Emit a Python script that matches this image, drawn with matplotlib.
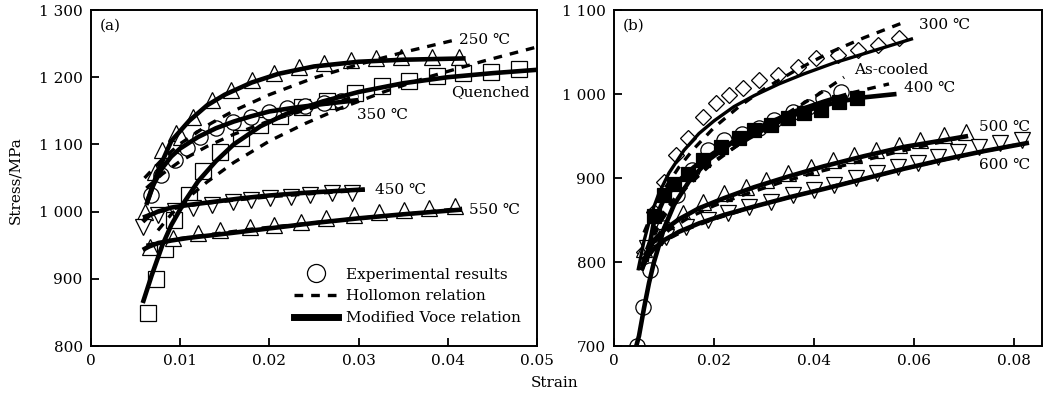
import matplotlib
matplotlib.use("Agg")
import matplotlib.pyplot as plt
from matplotlib.lines import Line2D
from matplotlib.ticker import FuncFormatter

plt.rcParams['font.family'] = ['DejaVu Serif', 'DejaVu Sans']
plt.rcParams['font.size'] = 11

# ---------------- Panel (a) data ----------------
a250_x = [0.0060, 0.0072, 0.0080, 0.0095, 0.0101, 0.0114, 0.0136, 0.0157, 0.0181, 0.0205, 0.0233, 0.0261, 0.0291, 0.0319, 0.0347, 0.0382, 0.0413]
a250_y = [1000, 1059, 1092, 1117, 1111, 1141, 1166, 1181, 1196, 1206, 1215, 1221, 1226, 1229, 1230, 1230, 1230]
a250_vx = [0.0063, 0.0075, 0.009, 0.011, 0.013, 0.015, 0.018, 0.021, 0.025, 0.030, 0.035, 0.042]
a250_vy = [1015, 1060, 1105, 1135, 1158, 1174, 1192, 1205, 1216, 1223, 1226, 1228]
a250_hx = [0.006, 0.008, 0.010, 0.013, 0.016, 0.020, 0.025, 0.030, 0.035, 0.041]
a250_hy = [1050, 1078, 1101, 1128, 1150, 1174, 1199, 1219, 1237, 1256]

aq_x = [0.0064, 0.0073, 0.0083, 0.0093, 0.0110, 0.0126, 0.0145, 0.0168, 0.0190, 0.0212, 0.0237, 0.0265, 0.0296, 0.0326, 0.0356, 0.0388, 0.0417, 0.0448, 0.0480]
aq_y = [849, 899, 945, 987, 1025, 1060, 1089, 1110, 1129, 1143, 1156, 1165, 1176, 1187, 1194, 1202, 1206, 1208, 1212]
aq_vx = [0.0058, 0.0068, 0.008, 0.009, 0.0105, 0.012, 0.014, 0.016, 0.019, 0.022, 0.026, 0.030, 0.035, 0.040, 0.045, 0.050]
aq_vy = [864, 905, 950, 980, 1015, 1045, 1075, 1100, 1127, 1146, 1164, 1178, 1191, 1200, 1206, 1211]
aq_hx = [0.0075, 0.009, 0.011, 0.013, 0.016, 0.020, 0.024, 0.028, 0.033, 0.038, 0.044, 0.050]
aq_hy = [972, 996, 1022, 1044, 1073, 1105, 1131, 1154, 1179, 1201, 1224, 1245]

a350_x = [0.0067, 0.0078, 0.0094, 0.0108, 0.0122, 0.0140, 0.0159, 0.0179, 0.0200, 0.0220, 0.0240, 0.0261, 0.0280]
a350_y = [1025, 1054, 1077, 1095, 1111, 1124, 1133, 1141, 1148, 1154, 1157, 1162, 1165]
a350_vx = [0.0062, 0.007, 0.008, 0.009, 0.010, 0.012, 0.014, 0.016, 0.018, 0.020, 0.023, 0.026, 0.030]
a350_vy = [1010, 1040, 1065, 1082, 1094, 1111, 1124, 1134, 1142, 1149, 1155, 1160, 1166]
a350_hx = [0.0062, 0.008, 0.010, 0.013, 0.016, 0.020, 0.025, 0.030]
a350_hy = [1035, 1056, 1075, 1097, 1115, 1135, 1155, 1172]

a450_x = [0.0058, 0.0075, 0.0094, 0.0114, 0.0136, 0.0159, 0.0179, 0.0201, 0.0224, 0.0246, 0.0270, 0.0293]
a450_y = [977, 995, 1001, 1005, 1010, 1014, 1017, 1020, 1022, 1025, 1028, 1028]
a450_vx = [0.0058, 0.0065, 0.0075, 0.009, 0.011, 0.014, 0.017, 0.020, 0.024, 0.0307]
a450_vy = [985, 994, 1000, 1006, 1010, 1015, 1020, 1024, 1028, 1033]
a450_hx = [0.0058, 0.007, 0.009, 0.012, 0.016, 0.020, 0.025, 0.0307]
a450_hy = [992, 998, 1004, 1011, 1017, 1022, 1027, 1032]

a550_x = [0.0066, 0.0092, 0.0120, 0.0145, 0.0178, 0.0205, 0.0235, 0.0263, 0.0295, 0.0323, 0.0351, 0.0379, 0.0408]
a550_y = [947, 961, 968, 973, 977, 980, 985, 990, 995, 999, 1002, 1005, 1009]
a550_vx = [0.0058, 0.0065, 0.0075, 0.009, 0.011, 0.015, 0.020, 0.025, 0.030, 0.035, 0.0416]
a550_vy = [943, 948, 953, 957, 961, 967, 975, 983, 990, 996, 1003]
a550_hx = [0.0062, 0.008, 0.010, 0.014, 0.018, 0.024, 0.030, 0.036, 0.0416]
a550_hy = [950, 955, 960, 967, 974, 982, 990, 997, 1005]

# ---------------- Panel (b) data ----------------
b300_x = [0.0060, 0.0080, 0.0100, 0.0124, 0.0148, 0.0178, 0.0204, 0.0230, 0.0258, 0.0290, 0.0328, 0.0368, 0.0404, 0.0448, 0.0488, 0.0528, 0.0570]
b300_y = [812, 860, 895, 927, 948, 973, 989, 999, 1007, 1017, 1023, 1032, 1043, 1046, 1052, 1058, 1067]
b300_vx = [0.0048, 0.006, 0.0075, 0.009, 0.011, 0.014, 0.017, 0.020, 0.024, 0.028, 0.033, 0.038, 0.044, 0.050, 0.0598]
b300_vy = [790, 825, 858, 882, 906, 933, 953, 968, 985, 998, 1012, 1024, 1037, 1048, 1066]
b300_hx = [0.006, 0.008, 0.010, 0.013, 0.016, 0.020, 0.025, 0.030, 0.036, 0.043, 0.050, 0.0574]
b300_hy = [835, 863, 886, 913, 935, 960, 985, 1006, 1027, 1049, 1067, 1084]

bac_x = [0.0046, 0.0058, 0.0072, 0.0100, 0.0125, 0.0155, 0.0188, 0.0220, 0.0255, 0.0290, 0.0320, 0.0358, 0.0388, 0.0418, 0.0454]
bac_y = [700, 746, 790, 840, 880, 910, 933, 945, 952, 960, 969, 979, 985, 995, 1002]
bac_vx = [0.004, 0.005, 0.006, 0.007, 0.008, 0.010, 0.012, 0.015, 0.019, 0.024, 0.030, 0.036, 0.042, 0.0465]
bac_vy = [690, 712, 745, 775, 800, 840, 868, 896, 922, 944, 963, 979, 991, 999]
bac_hx = [0.0055, 0.007, 0.009, 0.012, 0.015, 0.019, 0.024, 0.030, 0.036, 0.041, 0.046]
bac_hy = [795, 820, 845, 872, 892, 914, 936, 960, 982, 1000, 1020]

b400_x = [0.0080, 0.0100, 0.0120, 0.0148, 0.0178, 0.0214, 0.0250, 0.0280, 0.0314, 0.0348, 0.0380, 0.0414, 0.0450, 0.0485]
b400_y = [855, 880, 893, 905, 921, 937, 948, 957, 963, 971, 977, 981, 990, 995]
b400_vx = [0.0065, 0.008, 0.010, 0.013, 0.016, 0.020, 0.025, 0.030, 0.035, 0.040, 0.045, 0.050, 0.0565]
b400_vy = [800, 848, 875, 897, 913, 930, 947, 961, 973, 983, 991, 996, 1000]
b400_hx = [0.0065, 0.008, 0.010, 0.013, 0.016, 0.020, 0.025, 0.030, 0.036, 0.042, 0.048, 0.055]
b400_hy = [815, 838, 860, 882, 900, 920, 940, 957, 975, 990, 1002, 1012]

b500_x = [0.0060, 0.0080, 0.0104, 0.0138, 0.0178, 0.0220, 0.0264, 0.0304, 0.0348, 0.0394, 0.0438, 0.0480, 0.0524, 0.0570, 0.0612, 0.0660, 0.0704]
b500_y = [815, 830, 840, 858, 871, 882, 889, 898, 906, 913, 921, 927, 933, 939, 945, 951, 955]
b500_vx = [0.0055, 0.0065, 0.008, 0.010, 0.013, 0.017, 0.022, 0.028, 0.035, 0.042, 0.050, 0.058, 0.065, 0.0708]
b500_vy = [790, 810, 826, 838, 851, 864, 876, 889, 902, 914, 926, 937, 944, 950]
b500_hx = [0.006, 0.008, 0.011, 0.015, 0.020, 0.026, 0.033, 0.040, 0.048, 0.056, 0.064, 0.0708]
b500_hy = [808, 823, 838, 853, 867, 880, 894, 906, 918, 930, 941, 950]

b600_x = [0.0066, 0.0104, 0.0144, 0.0188, 0.0228, 0.0270, 0.0314, 0.0358, 0.0400, 0.0440, 0.0484, 0.0526, 0.0568, 0.0608, 0.0648, 0.0688, 0.0730, 0.0772, 0.0816]
b600_y = [817, 830, 842, 850, 858, 865, 871, 880, 886, 892, 900, 906, 913, 918, 925, 931, 937, 942, 945]
b600_vx = [0.0055, 0.0065, 0.008, 0.010, 0.013, 0.017, 0.022, 0.028, 0.035, 0.042, 0.050, 0.058, 0.066, 0.074, 0.083]
b600_vy = [790, 805, 816, 826, 836, 846, 856, 866, 877, 887, 899, 911, 922, 932, 942]
b600_hx = [0.006, 0.008, 0.011, 0.015, 0.020, 0.027, 0.035, 0.043, 0.052, 0.061, 0.070, 0.080]
b600_hy = [805, 815, 828, 840, 851, 864, 877, 889, 902, 915, 927, 939]

a_xticks = [0, 0.01, 0.02, 0.03, 0.04, 0.05]
a_yticks = [800, 900, 1000, 1100, 1200, 1300]
b_xticks = [0, 0.02, 0.04, 0.06, 0.08]
b_yticks = [700, 800, 900, 1000, 1100]

fig = plt.figure(figsize=(10.49, 3.94), dpi=100)
axa = fig.add_axes([91/1049, 48/394, 446/1049, 336/394])
axb = fig.add_axes([614/1049, 48/394, 428/1049, 336/394])

VLW = 3.3
HLW = 2.4
DASH = (0, (2.6, 2.4))
MS = 11
MEW = 0.9


def series(ax, px, py, vx, vy, hx, hy, marker, filled=False, ms=MS, vlw=VLW):
    fc = 'black' if filled else 'white'
    ax.plot(px, py, ls='none', marker=marker, ms=ms, mfc=fc, mec='black', mew=MEW, zorder=2)
    ax.plot(hx, hy, color='black', lw=HLW, ls=DASH, zorder=3, solid_capstyle='butt')
    ax.plot(vx, vy, color='black', lw=vlw, ls='-', zorder=4, solid_capstyle='butt')


series(axa, a250_x, a250_y, a250_vx, a250_vy, a250_hx, a250_hy, '^')
series(axa, aq_x, aq_y, aq_vx, aq_vy, aq_hx, aq_hy, 's')
series(axa, a350_x, a350_y, a350_vx, a350_vy, a350_hx, a350_hy, 'o')
series(axa, a450_x, a450_y, a450_vx, a450_vy, a450_hx, a450_hy, 'v')
series(axa, a550_x, a550_y, a550_vx, a550_vy, a550_hx, a550_hy, '^')

series(axb, b300_x, b300_y, b300_vx, b300_vy, b300_hx, b300_hy, 'D', ms=8.5, vlw=2.4)
series(axb, bac_x, bac_y, bac_vx, bac_vy, bac_hx, bac_hy, 'o')
series(axb, b400_x, b400_y, b400_vx, b400_vy, b400_hx, b400_hy, 's', filled=True, ms=10)
series(axb, b500_x, b500_y, b500_vx, b500_vy, b500_hx, b500_hy, '^')
series(axb, b600_x, b600_y, b600_vx, b600_vy, b600_hx, b600_hy, 'v')


def fmt_thousands(v, pos):
    v = int(round(v))
    if v >= 1000:
        return f"{v // 1000} {v % 1000:03d}"
    return str(v)


def fmt_x(v, pos):
    if abs(v) < 1e-12:
        return "0"
    return f"{v:.2f}"


for ax, xt, yt, xl, yl in [(axa, a_xticks, a_yticks, (0, 0.05), (800, 1300)),
                           (axb, b_xticks, b_yticks, (0, 0.0856), (700, 1100))]:
    ax.set_xlim(*xl)
    ax.set_ylim(*yl)
    ax.set_xticks(xt)
    ax.set_yticks(yt)
    ax.xaxis.set_major_formatter(FuncFormatter(fmt_x))
    ax.yaxis.set_major_formatter(FuncFormatter(fmt_thousands))
    ax.tick_params(direction='in', length=6, width=1.3, top=False, right=False, labelsize=11, pad=6)
    for s in ax.spines.values():
        s.set_linewidth(1.4)

# panel labels
axa.text(0.02, 0.975, "(a)", transform=axa.transAxes, ha='left', va='top', fontsize=11)
axb.text(0.02, 0.975, "(b)", transform=axb.transAxes, ha='left', va='top', fontsize=11)

# curve labels (a)
axa.text(0.0413, 1256, "250 ℃", ha='left', va='center', fontsize=11)
axa.text(0.0404, 1178, "Quenched", ha='left', va='center', fontsize=11)
axa.text(0.0298, 1144, "350 ℃", ha='left', va='center', fontsize=11)
axa.text(0.0318, 1032, "450 ℃", ha='left', va='center', fontsize=11)
axa.text(0.0424, 1002, "550 ℃", ha='left', va='center', fontsize=11)

# curve labels (b)
axb.text(0.0610, 1082, "300 ℃", ha='left', va='center', fontsize=11)
axb.text(0.0480, 1029, "As-cooled", ha='left', va='center', fontsize=11)
axb.text(0.0580, 1007, "400 ℃", ha='left', va='center', fontsize=11)
axb.text(0.0730, 961, "500 ℃", ha='left', va='center', fontsize=11)
axb.text(0.0730, 915, "600 ℃", ha='left', va='center', fontsize=11)

handles = [
    Line2D([], [], ls='none', marker='o', ms=13, mfc='white', mec='black', mew=MEW),
    Line2D([], [], ls=DASH, lw=HLW, color='black'),
    Line2D([], [], ls='-', lw=5, color='black'),
]
labels = ["Experimental results", "Hollomon relation", "Modified Voce relation"]
axa.legend(handles, labels, loc='lower right', bbox_to_anchor=(0.985, 0.035), frameon=False,
           fontsize=11, handlelength=2.9, handletextpad=0.55, labelspacing=0.5, borderaxespad=0.2)

fig.text(15/1049, 1 - 180/394, "Stress/MPa", rotation=90, ha='center', va='center', fontsize=11)
fig.text(555/1049, 1 - 383/394, "Strain", ha='center', va='center', fontsize=11)

fig.savefig("out.png", dpi=100)
